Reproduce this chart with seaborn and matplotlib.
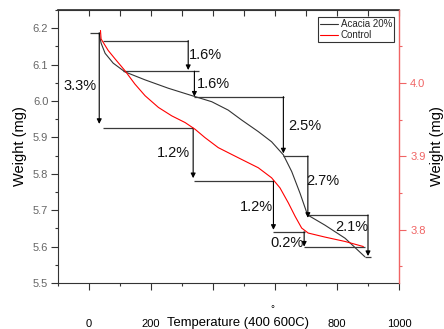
import numpy as np
import pandas as pd
import matplotlib
matplotlib.use("Agg")
import matplotlib.pyplot as plt
from matplotlib.ticker import MultipleLocator, FormatStrFormatter
from matplotlib.lines import Line2D
import seaborn as sns

# ---------------- data ----------------
acacia_temp = [33, 36, 39, 52, 78, 116, 181, 256, 331, 396, 449, 492, 546,
               589, 627, 654, 681, 705, 761, 826, 890]
acacia_weight = [6.187, 6.172, 6.159, 6.131, 6.104, 6.080, 6.058, 6.035, 6.015,
                 5.998, 5.975, 5.948, 5.916, 5.888, 5.852, 5.806, 5.746, 5.687,
                 5.659, 5.623, 5.572]

control_temp = [37, 39, 62, 84, 116, 148, 181, 224, 267, 310, 342, 374, 417,
                460, 492, 546, 589, 616, 643, 665, 686, 707, 761, 826, 885]
control_weight = [4.0716, 4.0600, 4.0443, 4.0329, 4.0168, 3.9986, 3.9826, 3.9667,
                  3.9552, 3.9461, 3.9370, 3.9256, 3.9119, 3.9027, 3.8959, 3.8845,
                  3.8708, 3.8571, 3.8366, 3.8182, 3.8023, 3.7955, 3.7900, 3.7840,
                  3.7771]

series_names = ["Acacia 20%", "Control"]
loss_labels = ["3.3%", "1.6%", "1.6%", "2.5%", "2.7%", "2.1%", "1.2%", "1.2%", "0.2%"]
x_ticks = [0, 200, 400, 600, 800, 1000]
x_tick_labels = ["0", "200", "", "", "800", "1000"]
x_label_text = "Temperature (400 600C)"
y_label_text = "Weight (mg)"

# ---------------- annotation layout (left-axis data coords) ----------------
label_pos = [(-29, 6.041), (374, 6.126), (400, 6.046), (697, 5.931), (755, 5.781),
             (847, 5.655), (271, 5.857), (541, 5.710), (638, 5.609)]
arrows = [(33, 6.187, 5.937), (320, 6.166, 6.085), (340, 6.082, 6.012),
          (627, 6.012, 5.856), (706, 5.849, 5.679), (900, 5.687, 5.574),
          (336, 5.925, 5.788), (595, 5.781, 5.646), (694, 5.641, 5.600)]
hlines = [(6.187, 3, 36), (5.925, 45, 336), (6.166, 45, 320), (6.082, 110, 355),
          (6.012, 340, 629), (5.849, 627, 706), (5.687, 706, 900),
          (5.572, 890, 910), (5.781, 340, 595), (5.641, 595, 697),
          (5.598, 694, 890)]

# ---------------- style ----------------
sns.set_theme(style="ticks")
plt.rcParams["font.family"] = ["Liberation Sans", "DejaVu Sans"]

W, H = 444, 329
fig = plt.figure(figsize=(W / 100, H / 100), dpi=100)
L, R, T, B = 58, 399, 10, 283
ax1 = fig.add_axes([L / W, 1 - B / H, (R - L) / W, (B - T) / H])
ax2 = ax1.twinx()

dark = "#333333"
red_axis = "#F06464"

df_a = pd.DataFrame({"Temperature": acacia_temp, "Weight": acacia_weight})
df_c = pd.DataFrame({"Temperature": control_temp, "Weight": control_weight})
sns.lineplot(data=df_a, x="Temperature", y="Weight", ax=ax1, color=dark,
             lw=0.8, sort=False, estimator=None, legend=False)
sns.lineplot(data=df_c, x="Temperature", y="Weight", ax=ax2, color="#FF0000",
             lw=0.8, sort=False, estimator=None, legend=False)

ax1.set_xlim(-100, 1000)
ax1.set_ylim(5.5, 6.25)
ax2.set_ylim(3.7274, 4.0995)

# x axis
ax1.set_xticks(x_ticks)
ax1.set_xticklabels(x_tick_labels)
ax1.xaxis.set_minor_locator(MultipleLocator(100))
ax1.tick_params(axis="x", which="major", direction="out", length=5, width=0.8,
                color=dark, pad=21, labelsize=8, labelcolor="black")
ax1.tick_params(axis="x", which="minor", direction="out", length=2.5, width=0.8,
                color=dark)
ax1.set_xlabel("")
ax2.set_xlabel("")

# top ticks
sec = ax1.secondary_xaxis("top")
sec.set_xticks(np.arange(0, 1001, 100))
sec.tick_params(direction="in", length=4, width=0.8, color=dark, labeltop=False)
sec.spines["top"].set_color(dark)

# left y
ax1.yaxis.set_major_locator(MultipleLocator(0.1))
ax1.yaxis.set_minor_locator(MultipleLocator(0.05))
ax1.yaxis.set_major_formatter(FormatStrFormatter("%.1f"))
ax1.tick_params(axis="y", which="major", direction="out", length=5, width=0.8,
                color=dark, pad=2, labelsize=8, labelcolor="#666666")
ax1.tick_params(axis="y", which="minor", direction="out", length=2.5, width=0.8,
                color=dark)
ax1.set_ylabel(y_label_text, fontsize=10.5, color="black")
ax1.yaxis.set_label_coords(-0.09, 0.5)

# right y
ax2.yaxis.set_major_locator(MultipleLocator(0.1))
ax2.yaxis.set_minor_locator(MultipleLocator(0.05))
ax2.yaxis.set_major_formatter(FormatStrFormatter("%.1f"))
ax2.tick_params(axis="y", which="major", direction="out", length=5, width=0.8,
                color=red_axis, pad=3, labelsize=8, labelcolor=red_axis)
ax2.tick_params(axis="y", which="minor", direction="out", length=2.5, width=0.8,
                color=red_axis)
ax2.set_ylabel(y_label_text, fontsize=10.5, color="black")
ax2.yaxis.set_label_coords(1.091, 0.5)

for sp in ["left", "bottom", "top"]:
    ax1.spines[sp].set_color(dark)
    ax1.spines[sp].set_linewidth(0.8)
ax1.spines["right"].set_visible(False)
ax2.spines["right"].set_color(red_axis)
ax2.spines["right"].set_linewidth(1.0)
for sp in ["left", "bottom", "top"]:
    ax2.spines[sp].set_visible(False)

# annotations
for y, x0, x1 in hlines:
    ax1.plot([x0, x1], [y, y], color="#3a3a3a", lw=0.9, solid_capstyle="butt")
for x, y0, y1 in arrows:
    ax1.annotate("", xy=(x, y1), xytext=(x, y0),
                 arrowprops=dict(arrowstyle="-|>", color="black", lw=0.8,
                                 mutation_scale=7, shrinkA=0, shrinkB=0))
for txt, (x, y) in zip(loss_labels, label_pos):
    ax1.text(x, y, txt, fontsize=10.5, ha="center", va="center", color="#111111")

# legend
handles = [Line2D([], [], color=dark, lw=0.8), Line2D([], [], color="#FF0000", lw=0.8)]
leg = ax2.legend(handles, series_names, loc="upper right",
                 bbox_to_anchor=((394 - L) / (R - L), (B - 17) / (B - T)),
                 borderaxespad=0, fontsize=7, frameon=True, fancybox=False,
                 handlelength=1.8, handletextpad=0.3, borderpad=0.2,
                 labelspacing=0.15)
leg.get_frame().set_edgecolor("black")
leg.get_frame().set_linewidth(0.8)

# bottom label text
fig.text(238 / W, 1 - 323 / H, x_label_text, fontsize=9.4, ha="center",
         va="center", color="black")
fig.text(272 / W, 1 - 309 / H, "°", fontsize=7, ha="center", va="center",
         color="black")

fig.savefig("out.png", dpi=100)
